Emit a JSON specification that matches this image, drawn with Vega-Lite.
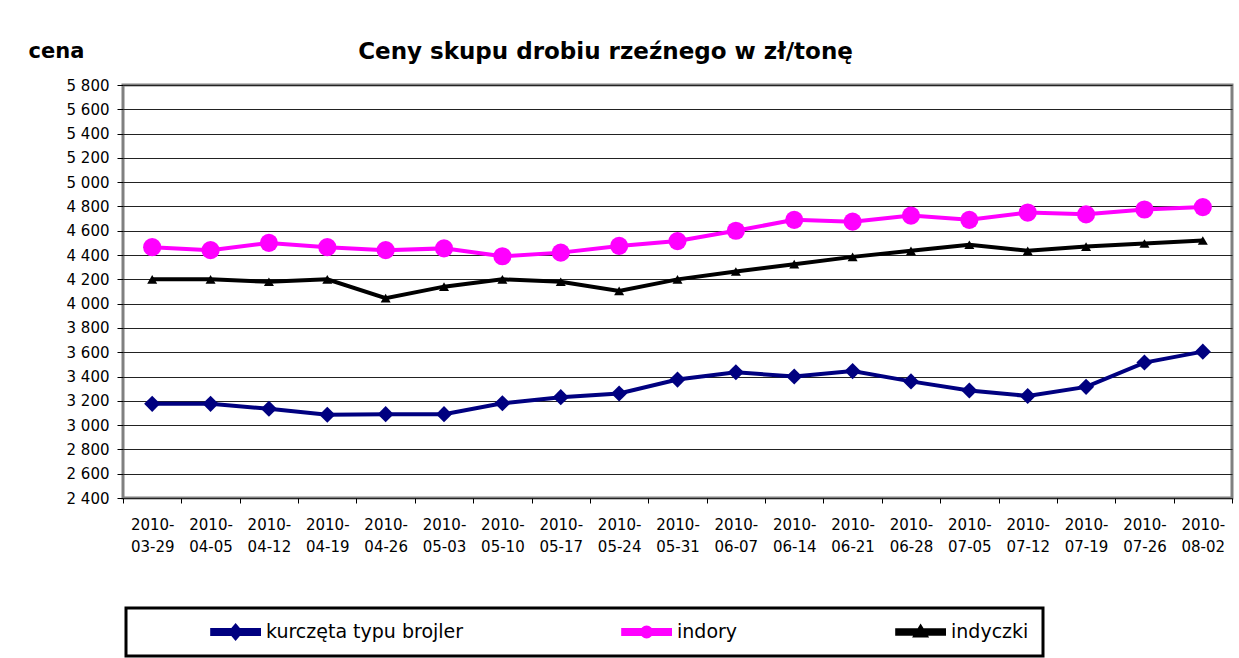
{
  "$schema": "https://vega.github.io/schema/vega-lite/v6.json",
  "width": 1109,
  "height": 413,
  "autosize": {"type": "none"},
  "padding": {"left": 123, "top": 85, "right": 7, "bottom": 160},
  "background": "white",
  "config": {
    "font": "DejaVu Sans",
    "view": {"stroke": "#808080", "strokeWidth": 3},
    "axis": {"labelFont": "DejaVu Sans", "labelColor": "black", "tickColor": "black", "domain": false},
    "legend": {
      "title": null,
      "orient": "none",
      "legendX": 3,
      "legendY": 523,
      "direction": "horizontal",
      "columns": 3,
      "columnPadding": 87,
      "padding": 14,
      "strokeColor": "black",
      "fillColor": "white",
      "labelFont": "DejaVu Sans",
      "labelFontSize": 19,
      "labelColor": "black",
      "labelOffset": 5,
      "labelLimit": 400,
      "symbolSize": 13689,
      "symbolStrokeWidth": 0,
      "clipHeight": 20
    }
  },
  "title": {
    "text": "Ceny skupu drobiu rzeźnego w zł/tonę",
    "font": "DejaVu Sans",
    "fontSize": 23,
    "fontWeight": "bold",
    "color": "black",
    "anchor": "middle",
    "frame": "group",
    "dx": -72,
    "dy": 42,
    "baseline": "alphabetic",
    "offset": 0
  },
  "data": {
    "values": [
      {"date": "2010-03-29", "series": "kurczęta typu brojler", "value": 3175},
      {"date": "2010-04-05", "series": "kurczęta typu brojler", "value": 3175},
      {"date": "2010-04-12", "series": "kurczęta typu brojler", "value": 3135},
      {"date": "2010-04-19", "series": "kurczęta typu brojler", "value": 3085},
      {"date": "2010-04-26", "series": "kurczęta typu brojler", "value": 3090},
      {"date": "2010-05-03", "series": "kurczęta typu brojler", "value": 3090},
      {"date": "2010-05-10", "series": "kurczęta typu brojler", "value": 3180},
      {"date": "2010-05-17", "series": "kurczęta typu brojler", "value": 3230},
      {"date": "2010-05-24", "series": "kurczęta typu brojler", "value": 3260},
      {"date": "2010-05-31", "series": "kurczęta typu brojler", "value": 3375},
      {"date": "2010-06-07", "series": "kurczęta typu brojler", "value": 3435},
      {"date": "2010-06-14", "series": "kurczęta typu brojler", "value": 3400},
      {"date": "2010-06-21", "series": "kurczęta typu brojler", "value": 3445},
      {"date": "2010-06-28", "series": "kurczęta typu brojler", "value": 3360},
      {"date": "2010-07-05", "series": "kurczęta typu brojler", "value": 3285},
      {"date": "2010-07-12", "series": "kurczęta typu brojler", "value": 3240},
      {"date": "2010-07-19", "series": "kurczęta typu brojler", "value": 3315},
      {"date": "2010-07-26", "series": "kurczęta typu brojler", "value": 3515},
      {"date": "2010-08-02", "series": "kurczęta typu brojler", "value": 3605},
      {"date": "2010-03-29", "series": "indory", "value": 4465},
      {"date": "2010-04-05", "series": "indory", "value": 4440},
      {"date": "2010-04-12", "series": "indory", "value": 4500},
      {"date": "2010-04-19", "series": "indory", "value": 4465},
      {"date": "2010-04-26", "series": "indory", "value": 4440},
      {"date": "2010-05-03", "series": "indory", "value": 4455},
      {"date": "2010-05-10", "series": "indory", "value": 4390},
      {"date": "2010-05-17", "series": "indory", "value": 4420},
      {"date": "2010-05-24", "series": "indory", "value": 4475},
      {"date": "2010-05-31", "series": "indory", "value": 4515},
      {"date": "2010-06-07", "series": "indory", "value": 4600},
      {"date": "2010-06-14", "series": "indory", "value": 4690},
      {"date": "2010-06-21", "series": "indory", "value": 4675},
      {"date": "2010-06-28", "series": "indory", "value": 4725},
      {"date": "2010-07-05", "series": "indory", "value": 4690},
      {"date": "2010-07-12", "series": "indory", "value": 4750},
      {"date": "2010-07-19", "series": "indory", "value": 4735},
      {"date": "2010-07-26", "series": "indory", "value": 4775},
      {"date": "2010-08-02", "series": "indory", "value": 4795},
      {"date": "2010-03-29", "series": "indyczki", "value": 4200},
      {"date": "2010-04-05", "series": "indyczki", "value": 4200},
      {"date": "2010-04-12", "series": "indyczki", "value": 4180},
      {"date": "2010-04-19", "series": "indyczki", "value": 4200},
      {"date": "2010-04-26", "series": "indyczki", "value": 4045},
      {"date": "2010-05-03", "series": "indyczki", "value": 4140},
      {"date": "2010-05-10", "series": "indyczki", "value": 4200},
      {"date": "2010-05-17", "series": "indyczki", "value": 4180},
      {"date": "2010-05-24", "series": "indyczki", "value": 4105},
      {"date": "2010-05-31", "series": "indyczki", "value": 4200},
      {"date": "2010-06-07", "series": "indyczki", "value": 4265},
      {"date": "2010-06-14", "series": "indyczki", "value": 4325},
      {"date": "2010-06-21", "series": "indyczki", "value": 4385},
      {"date": "2010-06-28", "series": "indyczki", "value": 4435},
      {"date": "2010-07-05", "series": "indyczki", "value": 4485},
      {"date": "2010-07-12", "series": "indyczki", "value": 4435},
      {"date": "2010-07-19", "series": "indyczki", "value": 4470},
      {"date": "2010-07-26", "series": "indyczki", "value": 4495},
      {"date": "2010-08-02", "series": "indyczki", "value": 4520}
    ]
  },
  "encoding": {
    "x": {
      "field": "date",
      "type": "ordinal",
      "sort": null,
      "scale": {"type": "band", "paddingInner": 0, "paddingOuter": 0},
      "axis": {
        "title": null,
        "labelAngle": 0,
        "labelExpr": "[slice(datum.label, 0, 5), slice(datum.label, 5)]",
        "labelFontSize": 15,
        "labelLineHeight": 22,
        "labelPadding": 14,
        "tickBand": "extent",
        "tickSize": 5,
        "grid": false
      }
    },
    "y": {
      "field": "value",
      "type": "quantitative",
      "scale": {"domain": [2400, 5800], "nice": false, "zero": false},
      "axis": {
        "values": [2400, 2600, 2800, 3000, 3200, 3400, 3600, 3800, 4000, 4200, 4400, 4600, 4800, 5000, 5200, 5400, 5600, 5800],
        "labelExpr": "replace(format(datum.value, ','), ',', ' ')",
        "labelFontSize": 15,
        "labelPadding": 8,
        "tickSize": 6,
        "grid": true,
        "gridColor": "#222222",
        "gridWidth": 1,
        "title": "cena",
        "titleAngle": 0,
        "titleAlign": "left",
        "titleBaseline": "alphabetic",
        "titleX": -95,
        "titleY": -28,
        "titleFont": "DejaVu Sans",
        "titleFontSize": 21,
        "titleFontWeight": "bold",
        "titleColor": "black"
      }
    },
    "color": {
      "field": "series",
      "type": "nominal",
      "scale": {"domain": ["kurczęta typu brojler", "indory", "indyczki"], "range": ["#000080", "#FF00FF", "#000000"]},
      "legend": {"encoding": {"legend": {"strokeWidth": {"value": 3}}}}
    }
  },
  "layer": [
    {
      "transform": [{"filter": "false"}],
      "mark": {"type": "point", "filled": true, "opacity": 1},
      "encoding": {
        "shape": {
          "field": "series",
          "type": "nominal",
          "scale": {
            "domain": ["kurczęta typu brojler", "indory", "indyczki"],
            "range": [
              "M0.2,-0.034H1V0.034H0.2Z M0.6,-0.1L0.685,0L0.6,0.1L0.515,0Z",
              "M0.2,-0.034H1V0.034H0.2Z M0.523,0A0.077,0.077 0 1,1 0.677,0A0.077,0.077 0 1,1 0.523,0Z",
              "M0.2,-0.03H1V0.03H0.2Z M0.6,-0.08L0.685,0.06L0.515,0.06Z"
            ]
          },
          "legend": {"encoding": {"legend": {"strokeWidth": {"value": 3}}}}
        }
      }
    },
    {
      "mark": {"type": "line"},
      "encoding": {
        "strokeWidth": {
          "field": "series",
          "type": "nominal",
          "scale": {"domain": ["kurczęta typu brojler", "indory", "indyczki"], "range": [4, 4, 3.5]},
          "legend": null
        }
      }
    },
    {
      "transform": [{"filter": "datum.series == 'kurczęta typu brojler'"}],
      "mark": {"type": "point", "filled": true, "opacity": 1, "shape": "diamond", "size": 260}
    },
    {
      "transform": [{"filter": "datum.series == 'indory'"}],
      "mark": {"type": "point", "filled": true, "opacity": 1, "shape": "circle", "size": 330}
    },
    {
      "transform": [{"filter": "datum.series == 'indyczki'"}],
      "mark": {"type": "point", "filled": true, "opacity": 1, "shape": "triangle-up", "size": 100}
    }
  ]
}
